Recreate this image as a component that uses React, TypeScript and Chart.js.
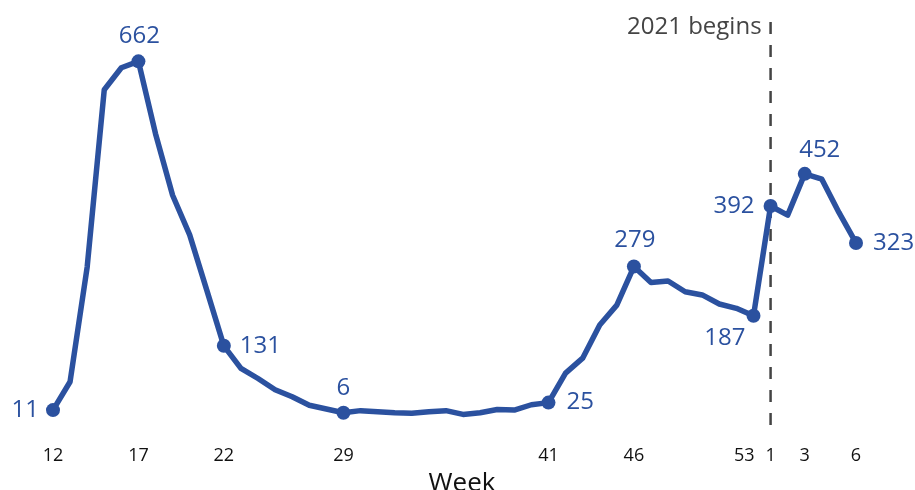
import React, { useEffect, useRef } from "react";
import { Chart, registerables } from "chart.js";

Chart.register(...registerables);

const weeks: string[] = [
  "12", "13", "14", "15", "16", "17", "18", "19", "20", "21", "22", "23", "24", "25", "26", "27",
  "28", "29", "30", "31", "32", "33", "34", "35", "36", "37", "38", "39", "40", "41", "42", "43",
  "44", "45", "46", "47", "48", "49", "50", "51", "52", "53", "1", "2", "3", "4", "5", "6",
];

const deaths: number[] = [
  11, 64, 278, 609, 650, 662, 527, 412, 338, 235, 131, 89, 70, 49, 36, 20,
  13, 6, 10, 8, 6, 5, 8, 10, 3, 6, 12, 11, 21, 25, 80, 108,
  170, 207, 279, 249, 252, 232, 226, 209, 201, 187, 392, 375, 452, 442, 380, 323,
];

const tickWeeks: number[] = [0, 5, 10, 17, 29, 34, 41, 42, 44, 47];

const labelled: number[] = [0, 5, 10, 17, 29, 34, 41, 42, 44, 47];

const yearStartIndex = 42;
const yearStartText = "2021 begins";
const xTitle = "Week";

const BLUE = "#2b519f";
const FONT = "'Open Sans', 'Noto Sans', sans-serif";

// label placement: [dx, dy, align]
const labelPlacement: Record<number, [number, number, CanvasTextAlign]> = {
  0: [-14, 0, "right"],
  5: [1, -25, "center"],
  10: [16, 0, "left"],
  17: [0, -25, "center"],
  29: [18, 0, "left"],
  34: [1, -26, "center"],
  41: [-8, 22, "right"],
  42: [-16, 0, "right"],
  44: [15, -24, "center"],
  47: [17, 0, "left"],
};

export default function App() {
  const ref = useRef<HTMLCanvasElement | null>(null);

  useEffect(() => {
    if (!ref.current) return;
    const overlay = {
      id: "overlay",
      beforeDatasetsDraw(chart: any) {
        const ctx = chart.ctx;
        const xs = chart.scales.x;
        const x = xs.getPixelForValue(yearStartIndex);
        ctx.save();
        ctx.strokeStyle = "#444444";
        ctx.lineWidth = 2.5;
        ctx.setLineDash([12, 11]);
        ctx.beginPath();
        ctx.moveTo(x, 22);
        ctx.lineTo(x, 434);
        ctx.stroke();
        ctx.setLineDash([]);
        ctx.fillStyle = "#444444";
        ctx.font = `24px ${FONT}`;
        ctx.textAlign = "right";
        ctx.textBaseline = "middle";
        ctx.fillText(yearStartText, x - 9, 27);
        ctx.restore();
      },
      afterDatasetsDraw(chart: any) {
        const ctx = chart.ctx;
        const meta = chart.getDatasetMeta(0);
        const xs = chart.scales.x;
        ctx.save();
        // data labels
        ctx.fillStyle = BLUE;
        ctx.font = `24px ${FONT}`;
        ctx.textBaseline = "middle";
        labelled.forEach((i) => {
          const pt = meta.data[i];
          const [dx, dy, al] = labelPlacement[i];
          ctx.textAlign = al;
          ctx.fillText(String(deaths[i]), pt.x + dx, pt.y + dy);
        });
        // x tick labels
        ctx.fillStyle = "#111111";
        ctx.font = `18px ${FONT}`;
        tickWeeks.forEach((i) => {
          const px = xs.getPixelForValue(i);
          if (weeks[i] === "53") {
            ctx.textAlign = "right";
            ctx.fillText(weeks[i], px + 1, 456);
          } else {
            ctx.textAlign = "center";
            ctx.fillText(weeks[i], px, 456);
          }
        });
        // x title
        ctx.fillStyle = "#111111";
        ctx.font = `26px ${FONT}`;
        ctx.textAlign = "center";
        ctx.textBaseline = "alphabetic";
        ctx.fillText(xTitle, 462, 491);
        ctx.restore();
      },
    };

    const chart = new Chart(ref.current, {
      type: "line",
      data: {
        labels: weeks,
        datasets: [
          {
            data: deaths,
            borderColor: BLUE,
            backgroundColor: BLUE,
            borderWidth: 5.5,
            pointRadius: deaths.map((_, i) => (labelled.includes(i) ? 7 : 0)),
            pointBackgroundColor: BLUE,
            pointBorderWidth: 0,
            tension: 0,
            clip: false as any,
            borderJoinStyle: "round",
            borderCapStyle: "round",
          },
        ],
      },
      options: {
        responsive: false,
        animation: false,
        layout: { padding: { left: 53, right: 59, top: 41, bottom: 74 } },
        plugins: {
          legend: { display: false },
          tooltip: { enabled: false },
          title: { display: false },
        },
        scales: {
          x: { type: "category", display: false, offset: false },
          y: { display: false, min: 0, max: 700 },
        },
      },
      plugins: [overlay],
    });
    return () => chart.destroy();
  }, []);

  return (
    <div style={{ position: "fixed", left: 0, top: 0, width: 915, height: 490, background: "#fff" }}>
      <canvas ref={ref} width={915} height={490} style={{ width: 915, height: 490 }} />
    </div>
  );
}
